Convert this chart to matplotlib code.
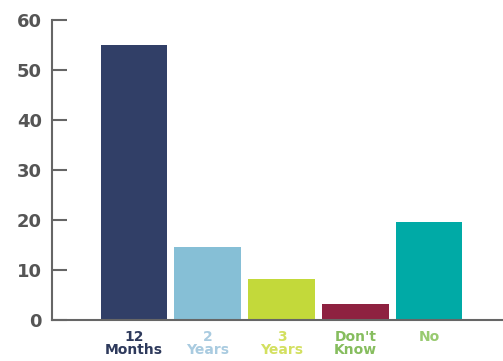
import matplotlib
matplotlib.use("Agg")
import matplotlib.pyplot as plt

categories = ["12\nMonths", "2\nYears", "3\nYears", "Don't\nKnow", "No"]
values = [55, 14.5, 8.2, 3.2, 19.5]
bar_colors = ["#313f67", "#86bfd6", "#c3d93a", "#8e2140", "#00aaa6"]
label_colors = ["#2e3a5c", "#a9cbe0", "#d3e060", "#86bd5e", "#98ca70"]
y_ticks = [0, 10, 20, 30, 40, 50, 60]

plt.rcParams["font.family"] = ["DejaVu Sans"]

fig = plt.figure(figsize=(5.03, 3.61), dpi=100)
ax = fig.add_axes([0.103, 0.114, 0.897, 0.831])

x = range(len(values))
ax.bar(x, values, width=0.9, color=bar_colors)

ax.set_xlim(-1.11, 5.0)
ax.set_ylim(0, 60)
ax.set_yticks(y_ticks)
ax.tick_params(axis="y", direction="in", length=11, width=1.5, color="#666666",
               labelsize=13, labelcolor="#555555", pad=7)
for lab in ax.get_yticklabels():
    lab.set_fontweight("bold")

ax.set_xticks(list(x))
ax.set_xticklabels(categories, fontsize=10, fontweight="bold", linespacing=0.95)
for lab, c in zip(ax.get_xticklabels(), label_colors):
    lab.set_color(c)
ax.tick_params(axis="x", length=0, pad=7)

for side in ["top", "right"]:
    ax.spines[side].set_visible(False)
for side in ["left", "bottom"]:
    ax.spines[side].set_color("#666666")
    ax.spines[side].set_linewidth(1.5)

fig.savefig("out.png", dpi=100)
